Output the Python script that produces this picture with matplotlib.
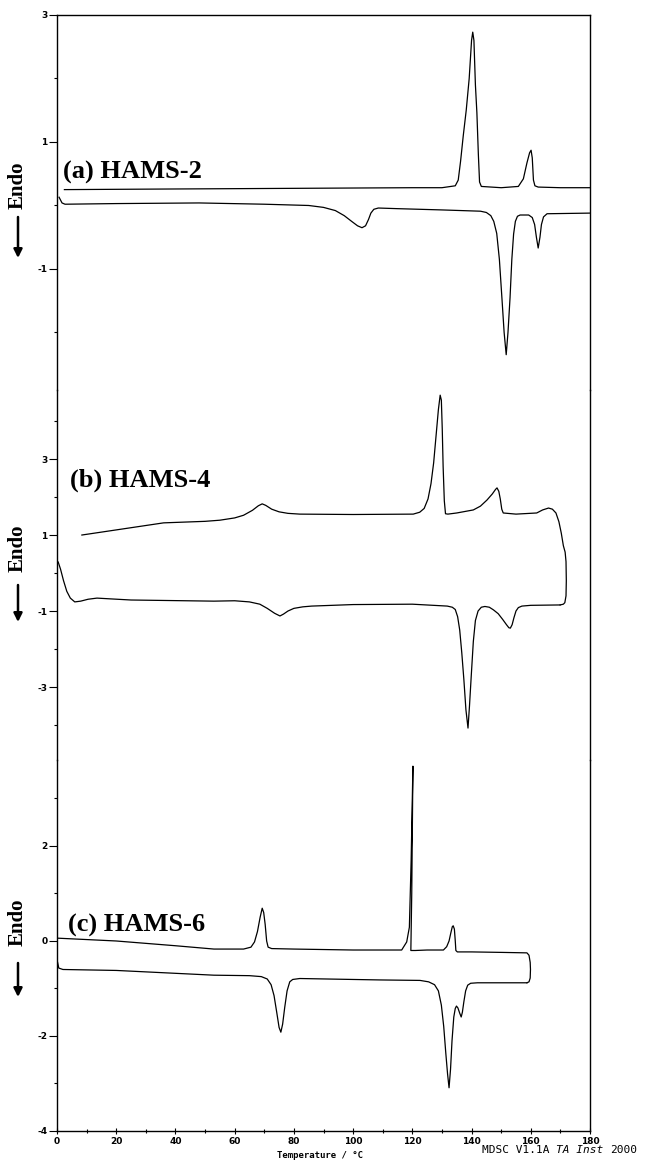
import matplotlib
matplotlib.use('Agg')
import matplotlib.pyplot as plt

# (a) HAMS-2 : cooling trace (top) and heating trace (bottom)
a_cool_t = [2.5, 40, 80, 120, 130, 134.5, 135.5, 136.3, 137.2, 138.2, 139.2, 140.0, 140.4, 140.8, 141.3, 141.8,
            142.3, 142.7, 143.3, 150, 155.8, 157.5, 158.7, 159.6, 160.1, 160.5, 160.9, 161.4, 162.5, 170, 180]
a_cool_y = [0.25, 0.26, 0.27, 0.28, 0.28, 0.31, 0.4, 0.7, 1.1, 1.5, 2.0, 2.6, 2.73, 2.6, 1.9, 1.46,
            0.8, 0.37, 0.3, 0.28, 0.30, 0.42, 0.67, 0.83, 0.87, 0.75, 0.40, 0.31, 0.29, 0.28, 0.28]
a_heat_t = [0.7, 1.7, 2.7, 20, 48, 70, 85, 90, 94, 97, 99.5, 101.5, 103, 104.2, 105.2, 106, 107, 108.5, 115, 130,
            143, 145, 146.5, 147.5, 148.5, 149.4, 150.3, 151.0, 151.7, 152.3, 153.0, 153.6, 154.2, 154.8,
            155.5, 156.4, 159.3, 160.5, 161.3, 161.9, 162.5, 163.1, 163.6, 164.3, 165.5, 180]
a_heat_y = [0.13, 0.04, 0.02, 0.03, 0.04, 0.02, 0.0, -0.03, -0.08, -0.16, -0.25, -0.32, -0.35, -0.32, -0.22, -0.12,
            -0.06, -0.04, -0.05, -0.07, -0.09, -0.11, -0.16, -0.25, -0.44, -0.85, -1.49, -2.0, -2.35, -2.0,
            -1.45, -0.85, -0.45, -0.25, -0.17, -0.15, -0.15, -0.19, -0.3, -0.5, -0.67, -0.5, -0.3, -0.18,
            -0.13, -0.12]

# (b) HAMS-4
b_cool_t = [8.4, 36, 50, 55, 60, 63, 66, 68, 69.3, 70.5, 72.5, 75, 78, 82, 100, 120.3, 122.5, 124, 125.3, 126.3,
            127.2, 128.0, 128.8, 129.4, 129.8, 130.1, 130.4, 130.8, 131.2, 132, 135, 140.6, 143, 145.2, 147,
            148.1, 148.6, 149.2, 149.7, 150.2, 150.7, 155, 162, 164, 166, 167.3, 168.5, 169.5, 170.3, 171.0,
            171.6, 171.9, 172.0, 171.9, 171.5, 171.0, 169.9]
b_cool_y = [1.0, 1.32, 1.36, 1.39, 1.45, 1.52, 1.65, 1.77, 1.82, 1.78, 1.68, 1.61, 1.57, 1.55, 1.54, 1.55, 1.6,
            1.7, 1.95, 2.35, 2.9, 3.6, 4.3, 4.68, 4.55, 3.8, 2.8, 1.9, 1.56, 1.55, 1.58, 1.66, 1.76, 1.92, 2.08,
            2.2, 2.24, 2.15, 1.95, 1.68, 1.58, 1.55, 1.58, 1.66, 1.71, 1.68, 1.58, 1.35, 1.05, 0.72, 0.55,
            0.3, -0.2, -0.6, -0.78, -0.82, -0.84]
b_heat_t = [0.4, 1.2, 2.2, 3.3, 4.5, 6.0, 8.0, 10.5, 13.5, 18, 25, 53, 60, 65, 68.5, 71, 73.5, 75.3, 76.5, 78, 80,
            83, 86, 100, 120, 131.8, 133.5, 134.5, 135.3, 136.0, 136.7, 137.4, 138.1, 138.8, 139.3, 139.9,
            140.6, 141.3, 142.2, 143.3, 144.5, 146, 147.4, 149, 150.5, 151.8, 152.6, 153.1, 153.7, 154.3,
            155, 155.8, 157, 160, 169.9]
b_heat_y = [0.29, 0.1, -0.2, -0.48, -0.66, -0.76, -0.74, -0.69, -0.66, -0.68, -0.71, -0.74, -0.73, -0.76, -0.82,
            -0.93, -1.06, -1.13, -1.08, -1.0, -0.93, -0.89, -0.87, -0.83, -0.82, -0.87, -0.9, -0.96, -1.15,
            -1.5, -2.1, -2.8, -3.6, -4.08, -3.5, -2.7, -1.8, -1.25, -1.0, -0.9, -0.88, -0.9, -0.97, -1.07,
            -1.22, -1.36, -1.44, -1.45, -1.36, -1.18, -1.0, -0.91, -0.87, -0.85, -0.84]

# (c) HAMS-6
c_cool_t = [0, 20, 40, 53, 63, 65.5, 66.7, 67.7, 68.6, 69.3, 69.8, 70.3, 70.8, 71.3, 72.5, 80, 100, 116.4, 118.1,
            119.0, 119.6, 120.2, 119.8, 119.5, 121, 125, 130.5, 131.6, 132.4, 133.0, 133.5, 133.8, 134.2,
            134.5, 134.7, 135.2, 140, 150, 158.7, 159.4, 159.8, 159.9, 159.8, 159.4, 158.7]
c_cool_y = [0.06, 0.0, -0.1, -0.17, -0.17, -0.13, -0.02, 0.2, 0.5, 0.69, 0.6, 0.35, 0.0, -0.13, -0.16, -0.17,
            -0.19, -0.19, -0.02, 0.29, 1.7, 3.68, 1.0, -0.2, -0.2, -0.19, -0.19, -0.12, 0.0, 0.17, 0.3, 0.32,
            0.25, 0.0, -0.2, -0.23, -0.23, -0.24, -0.25, -0.3, -0.45, -0.6, -0.78, -0.86, -0.88]
c_heat_t = [0.2, 0.6, 2, 20, 53, 65, 69, 71, 72.3, 73.3, 74.2, 75.0, 75.6, 76.2, 76.9, 77.7, 78.6, 79.6, 82, 100,
            109.1, 122.6, 125.5, 127.5, 128.8, 129.8, 130.6, 131.3, 131.9, 132.4, 132.9, 133.4, 134.0, 134.5,
            134.9, 135.4, 136.0, 136.5, 136.9, 137.4, 138.0, 138.7, 139.7, 142, 158.7]
c_heat_y = [-0.45, -0.57, -0.6, -0.62, -0.72, -0.73, -0.75, -0.8, -0.92, -1.15, -1.5, -1.82, -1.92, -1.75, -1.4,
            -1.05, -0.86, -0.81, -0.79, -0.81, -0.82, -0.83, -0.86, -0.92, -1.05, -1.35, -1.8, -2.36, -2.8,
            -3.09, -2.7, -2.1, -1.6, -1.42, -1.37, -1.41, -1.52, -1.6, -1.5, -1.28, -1.05, -0.93, -0.89,
            -0.88, -0.88]

labels = ['(a) HAMS-2', '(b) HAMS-4', '(c) HAMS-6']
yticks_major = [[3, 1, -1], [3, 1, -1, -3], [2, 0, -2, -4]]
yticks_minor = [[2, 0, -2], [4, 2, 0, -2, -4], [3, 1, -1, -3]]

W, H = 645, 1161
fig = plt.figure(figsize=(W / 100, H / 100), dpi=100)

# pixel geometry
x0, x1 = 57, 590
rows = [(15, 390), (390, 760), (760, 1131)]
ylims = [(-2.906, 3.0), (-4.92, 4.816), (-4.0, 3.81)]
label_xy = [(63, 172), (70, 480), (68, 925)]
endo_y = [(185, 217, 258), (548, 585, 622), (922, 963, 997)]

curves = [(a_cool_t, a_cool_y, a_heat_t, a_heat_y),
          (b_cool_t, b_cool_y, b_heat_t, b_heat_y),
          (c_cool_t, c_cool_y, c_heat_t, c_heat_y)]

for i in range(3):
    top, bot = rows[i]
    ax = fig.add_axes([x0 / W, 1 - bot / H, (x1 - x0) / W, (bot - top) / H])
    ct, cy, ht, hy = curves[i]
    ax.plot(ct, cy, color='k', lw=0.9)
    ax.plot(ht, hy, color='k', lw=0.9)
    ax.set_xlim(0, 180)
    ax.set_ylim(*ylims[i])
    ax.set_yticks(yticks_major[i])
    ax.set_yticks(yticks_minor[i], minor=True)
    ax.set_yticklabels([str(v) for v in yticks_major[i]])
    ax.tick_params(axis='y', which='major', direction='out', length=6, width=0.8, pad=1,
                   labelsize=6.5)
    ax.tick_params(axis='y', which='minor', direction='out', length=2.5, width=0.8)
    for lab in ax.get_yticklabels():
        lab.set_fontweight('bold')
    ax.spines['top'].set_visible(i == 0)
    ax.spines['bottom'].set_visible(i == 2)
    for s in ax.spines.values():
        s.set_linewidth(1.0)
    if i == 2:
        ax.set_xticks(range(0, 181, 20))
        ax.set_xticks(range(10, 180, 20), minor=True)
        ax.tick_params(axis='x', which='major', direction='inout', length=5, width=0.8, pad=2,
                       labelsize=6.5)
        ax.tick_params(axis='x', which='minor', direction='inout', length=3, width=0.8)
        for lab in ax.get_xticklabels():
            lab.set_fontweight('bold')
    else:
        ax.set_xticks([])
    ax.patch.set_alpha(0)

    lx, ly = label_xy[i]
    fig.text(lx / W, 1 - ly / H, labels[i], family='Liberation Serif', weight='bold',
             fontsize=19, ha='left', va='center')
    ey, a0, a1 = endo_y[i]
    fig.text(18 / W, 1 - ey / H, 'Endo', family='Liberation Serif', weight='bold',
             fontsize=15, rotation=90, ha='center', va='center')
    fig.add_artist(matplotlib.patches.FancyArrowPatch(
        (18 / W, 1 - a0 / H), (18 / W, 1 - a1 / H), transform=fig.transFigure,
        arrowstyle='-|>,head_length=5,head_width=2.5', color='k', lw=1.8,
        shrinkA=0, shrinkB=0))

fig.text(320 / W, 1 - 1155 / H, 'Temperature / \u00b0C', family='DejaVu Sans Mono',
         weight='bold', fontsize=6.5, ha='center', va='center')
fig.text(482 / W, 1 - 1150 / H, 'MDSC V1.1A', family='DejaVu Sans Mono', fontsize=8,
         ha='left', va='center')
fig.text(556 / W, 1 - 1150 / H, 'TA Inst', family='DejaVu Sans Mono', style='italic',
         fontsize=8, ha='left', va='center')
fig.text(610 / W, 1 - 1150 / H, '2000', family='DejaVu Sans Mono', fontsize=8,
         ha='left', va='center')

fig.savefig('out.png', dpi=100)
